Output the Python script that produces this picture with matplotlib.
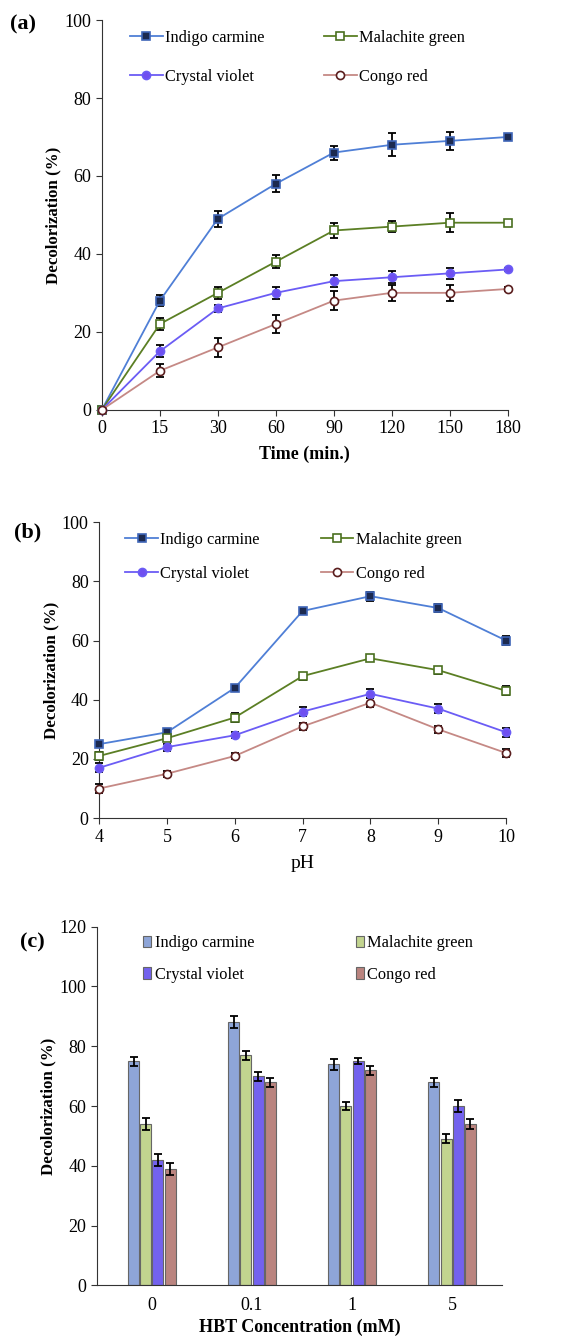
import matplotlib.pyplot as plt
import numpy as np

plt.rcParams['font.family'] = ['Liberation Serif', 'DejaVu Serif']

dyes = ["Indigo carmine", "Malachite green", "Crystal violet", "Congo red"]

# panel (a): time course
time_labels = ["0", "15", "30", "60", "90", "120", "150", "180"]
a_indigo = [0, 28, 49, 58, 66, 68, 69, 70]
a_malachite = [0, 22, 30, 38, 46, 47, 48, 48]
a_crystal = [0, 15, 26, 30, 33, 34, 35, 36]
a_congo = [0, 10, 16, 22, 28, 30, 30, 31]
a_indigo_err = [0.5, 1.5, 2, 2.2, 1.8, 2.9, 2.3, 0.5]
a_malachite_err = [0.5, 1.5, 1.5, 1.7, 2, 1.5, 2.5, 0.5]
a_crystal_err = [0.5, 1.5, 1, 1.5, 1.5, 1.5, 1.5, 0.5]
a_congo_err = [0.5, 1.7, 2.5, 2.3, 2.5, 2, 2, 0.5]

# panel (b): pH
ph_vals = [4, 5, 6, 7, 8, 9, 10]
b_indigo = [25, 29, 44, 70, 75, 71, 60]
b_malachite = [21, 27, 34, 48, 54, 50, 43]
b_crystal = [17, 24, 28, 36, 42, 37, 29]
b_congo = [10, 15, 21, 31, 39, 30, 22]
b_indigo_err = [1, 1.2, 1, 1, 1.5, 1.5, 1.5]
b_malachite_err = [1.2, 1, 1.5, 1.2, 1, 1.2, 1.5]
b_crystal_err = [1.5, 1.2, 1, 1.5, 1.5, 1.5, 1.5]
b_congo_err = [1.5, 1, 1, 1.2, 1.5, 1.2, 1.5]

# panel (c): HBT concentration
hbt_labels = ["0", "0.1", "1", "5"]
c_indigo = [75, 88, 74, 68]
c_malachite = [54, 77, 60, 49]
c_crystal = [42, 70, 75, 60]
c_congo = [39, 68, 72, 54]
c_indigo_err = [1.5, 2, 1.8, 1.5]
c_malachite_err = [2, 1.5, 1.5, 1.5]
c_crystal_err = [2, 1.5, 1, 2]
c_congo_err = [2, 1.5, 1.5, 1.8]

line_colors = ["#4f7fd6", "#5b7f24", "#6b5cf5", "#c58985"]
marker_face = ["#1c2a50", "white", "#6f4ff0", "white"]
marker_edge = ["#3f66b8", "#4a7020", "#6b5cf5", "#5a1e1e"]
markers = ["s", "s", "o", "o"]
bar_colors = ["#8ea5d8", "#c2d48f", "#7362ee", "#ba847f"]

tick_fs = 13
leg_fs = 11.8
fig = plt.figure(figsize=(5.63, 13.39), dpi=100)


def style_axes(ax):
    ax.spines['top'].set_visible(False)
    ax.spines['right'].set_visible(False)
    ax.spines['left'].set_color('#333333')
    ax.spines['bottom'].set_color('#333333')
    ax.tick_params(direction='out', labelsize=tick_fs, length=4, color='#333333')


def line_panel(ax, x, series, errs, xlim):
    handles = []
    for i in range(4):
        ax.errorbar(x, series[i], yerr=errs[i], fmt='none', ecolor='black',
                    elinewidth=1.3, capsize=3, capthick=1.3, clip_on=False, zorder=3)
        h, = ax.plot(x, series[i], color=line_colors[i], lw=1.3, marker=markers[i],
                     markersize=5.8, markerfacecolor=marker_face[i],
                     markeredgecolor=marker_edge[i], markeredgewidth=1.2,
                     clip_on=False, zorder=4, label=dyes[i])
        handles.append(h)
    ax.set_xlim(*xlim)
    ax.set_ylim(0, 100)
    ax.set_yticks([0, 20, 40, 60, 80, 100])
    style_axes(ax)
    return handles


# (a)
ax1 = fig.add_axes([0.181, 0.694, 0.721, 0.291])
xa = np.arange(len(time_labels))
h = line_panel(ax1, xa, [a_indigo, a_malachite, a_crystal, a_congo],
               [a_indigo_err, a_malachite_err, a_crystal_err, a_congo_err], (0, 7))
ax1.set_xticks(xa)
ax1.set_xticklabels(time_labels)
ax1.set_xlabel("Time (min.)", fontsize=13, fontweight='bold', labelpad=6)
ax1.set_ylabel("Decolorization (%)", fontsize=12.2, fontweight='bold', labelpad=2)
ax1.legend([h[0], h[2], h[1], h[3]], [dyes[0], dyes[2], dyes[1], dyes[3]], ncol=2,
           loc='upper left', bbox_to_anchor=(0.033, 1.012), frameon=False, fontsize=leg_fs,
           handlelength=2.0, handletextpad=0.15, labelspacing=1.4, columnspacing=3.6)
fig.text(0.018, 0.982, "(a)", fontsize=16, fontweight='bold', va='center')

# (b)
ax2 = fig.add_axes([0.176, 0.389, 0.723, 0.221])
h = line_panel(ax2, ph_vals, [b_indigo, b_malachite, b_crystal, b_congo],
               [b_indigo_err, b_malachite_err, b_crystal_err, b_congo_err], (4, 10))
ax2.set_xticks(ph_vals)
ax2.set_xlabel("pH", fontsize=14, labelpad=7)
ax2.set_ylabel("Decolorization (%)", fontsize=12.2, fontweight='bold', labelpad=2)
ax2.legend([h[0], h[2], h[1], h[3]], [dyes[0], dyes[2], dyes[1], dyes[3]], ncol=2,
           loc='upper left', bbox_to_anchor=(0.028, 1.018), frameon=False, fontsize=leg_fs,
           handlelength=2.0, handletextpad=0.15, labelspacing=1.1, columnspacing=3.7)
fig.text(0.025, 0.602, "(b)", fontsize=16, fontweight='bold', va='center')

# (c)
ax3 = fig.add_axes([0.172, 0.040, 0.720, 0.268])
xc = np.arange(len(hbt_labels))
c_series = [c_indigo, c_malachite, c_crystal, c_congo]
c_errs = [c_indigo_err, c_malachite_err, c_crystal_err, c_congo_err]
bw = 0.11
step = 0.122
bars = []
for i in range(4):
    pos = xc + (i - 1.5) * step
    b = ax3.bar(pos, c_series[i], width=bw, color=bar_colors[i], edgecolor='#666666',
                linewidth=0.8, label=dyes[i], zorder=2)
    ax3.errorbar(pos, c_series[i], yerr=c_errs[i], fmt='none', ecolor='black',
                 elinewidth=1.3, capsize=3, capthick=1.3, zorder=3)
    bars.append(b)
ax3.set_xlim(-0.55, 3.5)
ax3.set_ylim(0, 120)
ax3.set_yticks([0, 20, 40, 60, 80, 100, 120])
ax3.set_xticks(xc)
ax3.set_xticklabels(hbt_labels)
style_axes(ax3)
ax3.tick_params(axis='x', length=0, pad=8)
ax3.set_xlabel("HBT Concentration (mM)", fontsize=13, fontweight='bold', labelpad=4)
ax3.set_ylabel("Decolorization (%)", fontsize=12.2, fontweight='bold', labelpad=2)
ax3.legend([bars[0], bars[2], bars[1], bars[3]], [dyes[0], dyes[2], dyes[1], dyes[3]],
           ncol=2, loc='upper left', bbox_to_anchor=(0.078, 1.017), frameon=False,
           fontsize=leg_fs, handlelength=0.5, handleheight=0.7, handletextpad=0.2,
           labelspacing=0.95, columnspacing=6.2)
fig.text(0.035, 0.296, "(c)", fontsize=16, fontweight='bold', va='center')

fig.savefig("out.png", dpi=100)
